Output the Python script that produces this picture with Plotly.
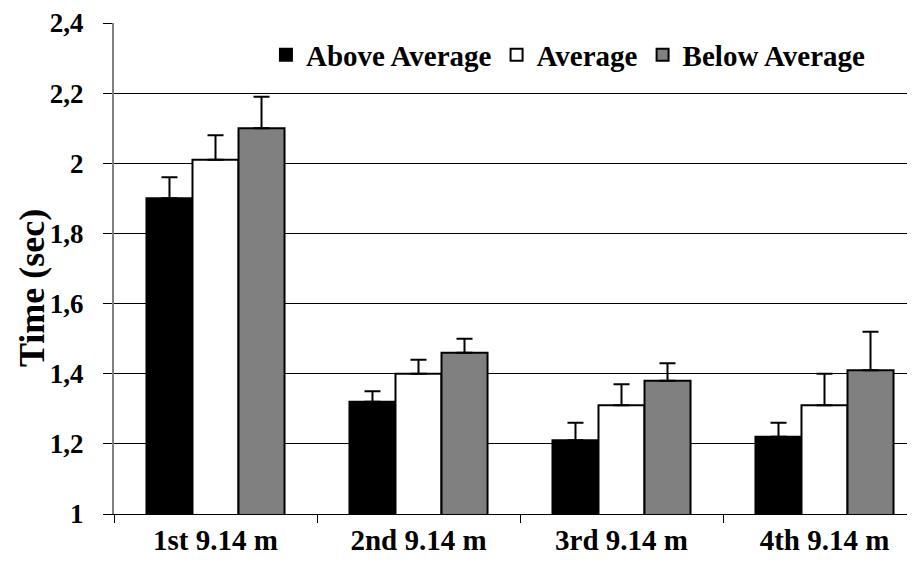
import plotly.graph_objects as go

categories = ["1st 9.14 m", "2nd 9.14 m", "3rd 9.14 m", "4th 9.14 m"]
above_avg = [1.90, 1.32, 1.21, 1.22]
above_err = [0.06, 0.03, 0.05, 0.04]
average = [2.01, 1.40, 1.31, 1.31]
average_err = [0.07, 0.04, 0.06, 0.09]
below_avg = [2.10, 1.46, 1.38, 1.41]
below_err = [0.09, 0.04, 0.05, 0.11]
y_ticks = [1, 1.2, 1.4, 1.6, 1.8, 2, 2.2, 2.4]
y_tick_labels = ["1", "1,2", "1,4", "1,6", "1,8", "2", "2,2", "2,4"]

FONT = "Liberation Serif"

fig = go.Figure()
for name, vals, errs, color in [
    ("Above Average", above_avg, above_err, "#000000"),
    ("Average", average, average_err, "#ffffff"),
    ("Below Average", below_avg, below_err, "#808080"),
]:
    fig.add_trace(go.Bar(
        x=categories, y=vals, name=name,
        marker=dict(color=color, line=dict(color="#000000", width=2)),
        error_y=dict(type="data", array=errs, symmetric=False,
                     arrayminus=[0] * len(errs),
                     color="#000000", thickness=2, width=8),
    ))

# the page body adds an 8px margin, so the figure is 8px smaller than the window
fig.update_layout(
    width=907, height=562,
    paper_bgcolor="white", plot_bgcolor="white",
    margin=dict(l=106, r=0, t=15, b=56, autoexpand=False),
    barmode="group", bargap=0.32, bargroupgap=0,
    font=dict(family=FONT, size=28, color="#000000", weight="bold"),
    showlegend=True,
    legend=dict(orientation="h", x=0.945, xanchor="right", y=0.935, yanchor="middle",
                font=dict(family=FONT, size=29, weight="bold"),
                bgcolor="rgba(0,0,0,0)", traceorder="normal",
                itemwidth=30),
    xaxis=dict(range=[-0.5, -0.5 + 801 / 203], showgrid=False, automargin=False,
               showline=True, linecolor="#000000", linewidth=1,
               ticks="outside", tickson="boundaries", ticklen=8, tickcolor="#000000",
               ticklabelstandoff=0, ticklabeloverflow="allow",
               tickfont=dict(family=FONT, size=29, weight="bold")),
    yaxis=dict(range=[1, 2.4], tickvals=y_ticks, ticktext=y_tick_labels,
               automargin=False, ticklabeloverflow="allow",
               showgrid=True, gridcolor="#000000", gridwidth=1,
               showline=True, linecolor="#808080", linewidth=2,
               ticks="outside", ticklen=9, tickcolor="#000000",
               ticklabelstandoff=14,
               tickfont=dict(family=FONT, size=27, weight="bold"),
               zeroline=False),
    annotations=[dict(text="Time (sec)", textangle=-90, xref="paper", yref="paper",
                      x=-0.1025, y=0.46, xanchor="center", yanchor="middle",
                      showarrow=False, font=dict(family=FONT, size=36, weight="bold"))],
)

fig.write_html("out.html")
